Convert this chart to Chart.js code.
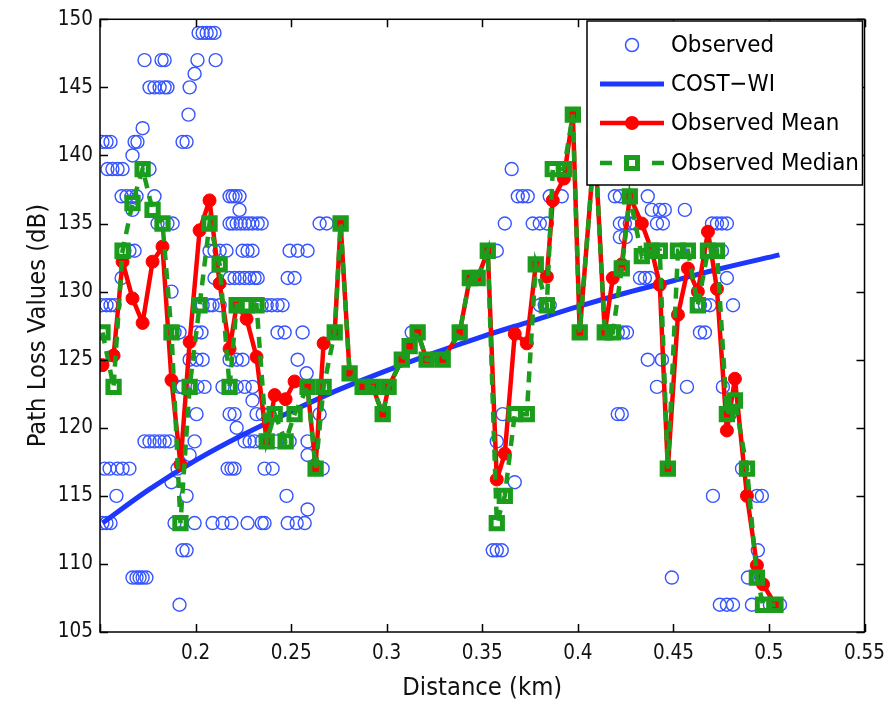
<!DOCTYPE html>
<html>
<head>
<meta charset="utf-8">
<script src="https://cdn.jsdelivr.net/npm/chart.js@4.4.1/dist/chart.umd.min.js"></script>
<style>
  html, body { margin: 0; padding: 0; background: #fff; }
  canvas { display: block; }
</style>
</head>
<body>
<canvas id="c" width="894" height="705"></canvas>
<script>
// ---------------- DATA ----------------
const xTicks = [0.15, 0.2, 0.25, 0.3, 0.35, 0.4, 0.45, 0.5, 0.55];
const xTickLabels = ['', '0.2', '0.25', '0.3', '0.35', '0.4', '0.45', '0.5', '0.55'];
const yTicks = [105, 110, 115, 120, 125, 130, 135, 140, 145, 150];

// Observed samples: one path-loss level per row, distances (km) observed at that level
const observedLevels = [149, 147, 146, 145, 143, 142, 141, 140, 139, 137, 136, 135, 134, 133, 131, 130, 129, 127, 125, 124, 123, 122, 121, 120, 119, 118, 117, 116, 115, 114, 113, 111, 109, 107];
const observedDistances = [
  [0.2016, 0.2037, 0.2058, 0.2079, 0.2099],
  [0.1733, 0.1822, 0.1838, 0.2010, 0.2105],
  [0.1995],
  [0.1759, 0.1785, 0.1812, 0.1838, 0.1853, 0.1969],
  [0.1963],
  [0.1723],
  [0.1513, 0.1534, 0.1555, 0.1681, 0.1696, 0.1932, 0.1953],
  [0.1670],
  [0.1539, 0.1565, 0.1592, 0.1618, 0.1759, 0.3654],
  [0.1613, 0.1639, 0.1665, 0.1691, 0.1785, 0.2178, 0.2194, 0.2209, 0.2230, 0.3686, 0.3712, 0.3738, 0.3853, 0.3916, 0.4194, 0.4220, 0.4366],
  [0.1670, 0.2230, 0.4387, 0.4429, 0.4455, 0.4560],
  [0.1801, 0.1827, 0.1853, 0.1880, 0.2178, 0.2194, 0.2215, 0.2236, 0.2257, 0.2277, 0.2298, 0.2325, 0.2346, 0.2649, 0.2686, 0.3618, 0.3764, 0.3801, 0.3838, 0.4220, 0.4246, 0.4272, 0.4298, 0.4414, 0.4445, 0.4702, 0.4728, 0.4754, 0.4780],
  [0.4220, 0.4251],
  [0.1628, 0.1654, 0.1681, 0.2073, 0.2099, 0.2126, 0.2162, 0.2246, 0.2272, 0.2298, 0.2492, 0.2534, 0.2586, 0.3529, 0.3576, 0.4534, 0.4702, 0.4728, 0.4754],
  [0.1613, 0.2099, 0.2178, 0.2204, 0.2230, 0.2257, 0.2283, 0.2309, 0.2325, 0.2482, 0.2518, 0.3435, 0.3476, 0.4325, 0.4351, 0.4377, 0.4780],
  [0.1874],
  [0.1508, 0.1534, 0.1555, 0.1576, 0.2037, 0.2073, 0.2089, 0.2126, 0.2319, 0.2346, 0.2372, 0.2398, 0.2429, 0.2455, 0.3801, 0.3827, 0.3853, 0.4639, 0.4665, 0.4691, 0.4812],
  [0.1890, 0.1916, 0.2005, 0.2031, 0.2429, 0.2466, 0.2560, 0.2728, 0.3131, 0.3162, 0.3382, 0.4141, 0.4178, 0.4209, 0.4236, 0.4257, 0.4639, 0.4665],
  [0.1969, 0.2005, 0.2037, 0.2178, 0.2215, 0.2246, 0.2534, 0.3079, 0.3209, 0.3293, 0.4366, 0.4440],
  [0.2581, 0.2806],
  [0.1916, 0.1932, 0.1969, 0.2010, 0.2047, 0.2141, 0.2178, 0.2215, 0.2257, 0.2298, 0.2874, 0.2927, 0.3010, 0.4414, 0.4571, 0.4759],
  [0.2298],
  [0.2005, 0.2178, 0.2204, 0.2319, 0.2351, 0.2387, 0.2649, 0.2979, 0.3607, 0.3733, 0.4209, 0.4230, 0.4796],
  [0.2215],
  [0.1733, 0.1759, 0.1785, 0.1812, 0.1838, 0.1864, 0.1995, 0.2257, 0.2283, 0.2309, 0.2346, 0.2372, 0.2424, 0.2492, 0.2586, 0.3576],
  [0.1969, 0.2586],
  [0.1524, 0.1550, 0.1592, 0.1618, 0.1654, 0.1906, 0.2168, 0.2188, 0.2204, 0.2361, 0.2403, 0.2665, 0.4859],
  [0.1874, 0.3670],
  [0.1586, 0.1953, 0.2476, 0.3618, 0.4707, 0.4937, 0.4963],
  [0.2586],
  [0.1513, 0.1534, 0.1555, 0.1890, 0.1995, 0.2089, 0.2141, 0.2188, 0.2272, 0.2346, 0.2361, 0.2482, 0.2529, 0.2571],
  [0.1932, 0.1953, 0.3555, 0.3576, 0.3602, 0.4942],
  [0.1670, 0.1691, 0.1707, 0.1723, 0.1743, 0.4492, 0.4890],
  [0.1916, 0.4743, 0.4780, 0.4812, 0.4911, 0.5005, 0.5031, 0.5058]
];

// COST-WI model curve
const costDistance = [0.1513, 0.175, 0.2, 0.225, 0.25, 0.275, 0.3, 0.325, 0.35, 0.375, 0.4, 0.425, 0.45, 0.475, 0.5055];
const costLoss     = [113.0, 115.4, 117.6, 119.5, 121.2, 122.8, 124.2, 125.5, 126.7, 127.8, 128.9, 129.9, 130.8, 131.7, 132.7];

// Mean / median per distance bin
const binDistance = [0.1513, 0.1571, 0.1618, 0.1670, 0.1723, 0.1775, 0.1827, 0.1874, 0.1921, 0.1969,
  0.2021, 0.2073, 0.2126, 0.2178, 0.2215, 0.2267, 0.2319, 0.2372, 0.2414, 0.2471,
  0.2518, 0.2586, 0.2628, 0.2670, 0.2728, 0.2759, 0.2806, 0.2874, 0.2927, 0.2979,
  0.3010, 0.3079, 0.3120, 0.3162, 0.3209, 0.3293, 0.3382, 0.3435, 0.3476, 0.3529,
  0.3576, 0.3618, 0.3670, 0.3733, 0.3780, 0.3838, 0.3869, 0.3927, 0.3974, 0.4010,
  0.4089, 0.4141, 0.4183, 0.4230, 0.4272, 0.4335, 0.4387, 0.4429, 0.4471, 0.4524,
  0.4576, 0.4628, 0.4681, 0.4728, 0.4780, 0.4822, 0.4885, 0.4937, 0.4969, 0.5034];
const meanLoss = [124.6, 125.3, 132.2, 129.5, 127.7, 132.2, 133.3, 123.5, 117.3, 126.3,
  134.5, 136.7, 130.6, 125.8, 129, 128, 125.2, 119, 122.4, 122.1,
  123.4, 122.9, 117.2, 126.2, 127, 135, 124, 123, 123, 121,
  123, 125, 126, 127, 125, 125, 127, 131, 131, 133,
  116.2, 118.1, 126.9, 126.2, 132, 131.1, 136.7, 138.3, 143, 127,
  141, 127, 131, 132, 137, 135, 133, 130.5, 117, 128.3,
  131.7, 130, 134.4, 130.2, 119.8, 123.6, 115, 109.9, 108.5, 107];
const medianLoss = [127, 123, 133, 136.5, 139, 136, 135, 127, 113, 123,
  129, 135, 132, 123, 129, 129, 129, 119, 121, 119,
  121, 123, 117, 123, 127, 135, 124, 123, 123, 121,
  123, 125, 126, 127, 125, 125, 127, 131, 131, 133,
  113, 115, 121, 121, 132, 129, 139, 139, 143, 127,
  141, 127, 127, 131.7, 137, 132.6, 133, 133, 117, 133,
  133, 129, 133, 133, 121, 122, 117, 109, 107, 107];

const legendLabels = ['Observed', 'COST\u2212WI', 'Observed Mean', 'Observed Median'];

// ---------------- STYLE ----------------
const BLUE_PT = 'rgb(55,85,255)';
const BLUE = 'rgb(30,55,255)';
const RED = '#ff0000';
const GREEN = '#1c9c1c';

function pickFamily() {
  const c = document.createElement('canvas').getContext('2d');
  const test = 'Observed Median 0.25';
  const cands = ['Liberation Sans Narrow', 'Arial Narrow', 'DejaVu Sans Condensed', 'Liberation Sans', 'Arial'];
  for (const f of cands) {
    for (const base of ['monospace', 'serif']) {
      c.font = '40px "' + f + '", ' + base;
      const w1 = c.measureText(test).width;
      c.font = '40px ' + base;
      const w2 = c.measureText(test).width;
      if (Math.abs(w1 - w2) > 0.5) return f;
    }
  }
  return 'sans-serif';
}
const FAMILY = pickFamily();
const FONT = '"' + FAMILY + '", "Liberation Sans", Arial, sans-serif';
function sizeForWidth(text, targetWidth, maxSize) {
  const c = document.createElement('canvas').getContext('2d');
  c.font = '100px ' + FONT;
  const s = targetWidth / c.measureText(text).width * 100;
  return Math.min(s, maxSize);
}
const tickSize = sizeForWidth('0.25', 41, 25);
const titleSize = sizeForWidth('Distance (km)', 160, 30);
const legendSize = sizeForWidth('Observed Median', 188, 29);

// ---------------- BUILD ----------------
const observedPoints = [];
observedLevels.forEach((lvl, i) => observedDistances[i].forEach(d => observedPoints.push({ x: d, y: lvl })));
const costPoints = costDistance.map((d, i) => ({ x: d, y: costLoss[i] }));
const meanPoints = binDistance.map((d, i) => ({ x: d, y: meanLoss[i] }));
const medianPoints = binDistance.map((d, i) => ({ x: d, y: medianLoss[i] }));

const framePlugin = {
  id: 'frameAndLegend',
  afterDraw(chart) {
    const { ctx, chartArea: { left, right, top, bottom }, scales: { x, y } } = chart;
    ctx.save();
    ctx.strokeStyle = '#000';
    ctx.lineWidth = 1.5;
    ctx.strokeRect(left, top, right - left, bottom - top);
    ctx.beginPath();
    const tl = 8;
    xTicks.forEach(v => {
      const px = Math.round(x.getPixelForValue(v)) + 0.5;
      ctx.moveTo(px, bottom); ctx.lineTo(px, bottom - tl);
      ctx.moveTo(px, top); ctx.lineTo(px, top + tl);
    });
    yTicks.forEach(v => {
      const py = Math.round(y.getPixelForValue(v)) + 0.5;
      ctx.moveTo(left, py); ctx.lineTo(left + tl, py);
      ctx.moveTo(right, py); ctx.lineTo(right - tl, py);
    });
    ctx.stroke();

    // Legend box (inside the axes, top-right)
    const lx = 587, ly = 21, lw = right - 2 - lx, lh = 164;
    ctx.fillStyle = '#fff';
    ctx.fillRect(lx, ly, lw, lh);
    ctx.lineWidth = 1.5;
    ctx.strokeStyle = '#000';
    ctx.strokeRect(lx, ly, lw, lh);
    const rows = [45, 84, 123, 163];
    const sx0 = 600, sx1 = 664, mx = 632, tx = 671;
    // Observed
    ctx.beginPath();
    ctx.strokeStyle = BLUE_PT; ctx.lineWidth = 1.5;
    ctx.arc(mx, rows[0], 6.5, 0, Math.PI * 2);
    ctx.stroke();
    // COST-WI
    ctx.beginPath();
    ctx.strokeStyle = BLUE; ctx.lineWidth = 5;
    ctx.moveTo(sx0, rows[1]); ctx.lineTo(sx1, rows[1]);
    ctx.stroke();
    // Mean
    ctx.beginPath();
    ctx.strokeStyle = RED; ctx.lineWidth = 4.5;
    ctx.moveTo(sx0, rows[2]); ctx.lineTo(sx1, rows[2]);
    ctx.stroke();
    ctx.beginPath();
    ctx.fillStyle = RED;
    ctx.arc(mx, rows[2], 7, 0, Math.PI * 2);
    ctx.fill();
    // Median
    ctx.beginPath();
    ctx.strokeStyle = GREEN; ctx.lineWidth = 4.5;
    ctx.setLineDash([12, 40]);
    ctx.moveTo(sx0, rows[3]); ctx.lineTo(sx1, rows[3]);
    ctx.stroke();
    ctx.setLineDash([]);
    ctx.lineWidth = 5;
    ctx.strokeRect(mx - 5.5, rows[3] - 5.5, 11, 11);

    ctx.fillStyle = '#000';
    ctx.font = legendSize + 'px ' + FONT;
    ctx.textAlign = 'left';
    ctx.textBaseline = 'middle';
    legendLabels.forEach((t, i) => ctx.fillText(t, tx, rows[i] + 1));
    ctx.restore();
  }
};

new Chart(document.getElementById('c'), {
  type: 'scatter',
  data: {
    datasets: [
      {
        label: legendLabels[0],
        data: observedPoints,
        showLine: false,
        pointStyle: 'circle',
        pointRadius: 6.5,
        pointBorderWidth: 1.4,
        pointBorderColor: BLUE_PT,
        pointBackgroundColor: 'rgba(0,0,0,0)',
        order: 4
      },
      {
        label: legendLabels[1],
        data: costPoints,
        showLine: true,
        borderColor: BLUE,
        borderWidth: 5,
        pointRadius: 0,
        tension: 0.4,
        cubicInterpolationMode: 'monotone',
        order: 3
      },
      {
        label: legendLabels[2],
        data: meanPoints,
        showLine: true,
        borderColor: RED,
        borderWidth: 4.5,
        borderJoinStyle: 'round',
        pointStyle: 'circle',
        pointRadius: 6.5,
        pointBorderWidth: 1,
        pointBorderColor: RED,
        pointBackgroundColor: RED,
        order: 2
      },
      {
        label: legendLabels[3],
        data: medianPoints,
        showLine: true,
        borderColor: GREEN,
        borderWidth: 4.5,
        borderDash: [11, 8],
        pointStyle: 'rect',
        pointRadius: 8,
        pointBorderWidth: 5,
        pointBorderColor: GREEN,
        pointBackgroundColor: 'rgba(0,0,0,0)',
        order: 1
      }
    ]
  },
  options: {
    responsive: false,
    devicePixelRatio: 1,
    animation: false,
    events: [],
    layout: { padding: { top: 16, right: 28, left: 0, bottom: 0 } },
    plugins: {
      legend: { display: false },
      tooltip: { enabled: false },
      title: { display: false }
    },
    scales: {
      x: {
        type: 'linear',
        min: 0.15,
        max: 0.55,
        afterBuildTicks: s => { s.ticks = xTicks.map(v => ({ value: v })); },
        afterFit: s => { s.height = 73; },
        grid: { display: false, drawTicks: false },
        border: { display: false },
        ticks: {
          autoSkip: false,
          maxRotation: 0,
          padding: 9,
          color: '#111',
          font: { family: FONT, size: tickSize },
          callback: (v, i) => xTickLabels[i]
        },
        title: {
          display: true,
          text: 'Distance (km)',
          color: '#111',
          font: { family: FONT, size: titleSize, lineHeight: 1 },
          padding: { top: 0, bottom: Math.max(0, 705 - 688 - titleSize / 2) }
        }
      },
      y: {
        type: 'linear',
        min: 105,
        max: 150,
        afterBuildTicks: s => { s.ticks = yTicks.map(v => ({ value: v })); },
        afterFit: s => { s.width = 100; },
        grid: { display: false, drawTicks: false },
        border: { display: false },
        ticks: {
          autoSkip: false,
          padding: 7,
          color: '#111',
          font: { family: FONT, size: tickSize },
          callback: v => String(v)
        },
        title: {
          display: true,
          text: 'Path Loss Values (dB)',
          color: '#111',
          font: { family: FONT, size: titleSize, lineHeight: 1 },
          padding: { top: Math.max(0, 38 - titleSize / 2), bottom: 0 }
        }
      }
    }
  },
  plugins: [framePlugin]
});
</script>
</body>
</html>
